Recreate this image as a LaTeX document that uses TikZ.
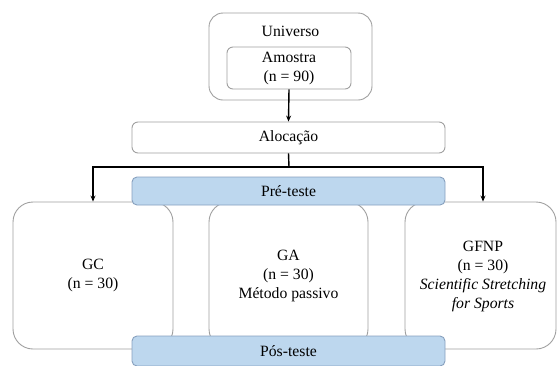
\documentclass[tikz,border=0pt]{standalone}
\usepackage{fontspec}
\setmainfont{Liberation Serif}
\usetikzlibrary{arrows.meta}
\definecolor{boxgray}{RGB}{160,160,160}
\definecolor{bluefill}{RGB}{189,215,238}
\definecolor{blueline}{RGB}{135,160,190}
\begin{document}
\begin{tikzpicture}[x=1pt,y=-1pt,
  txt/.style={font=\fontsize{15.7}{19}\selectfont, align=center, inner sep=0pt},
  graybox/.style={draw=boxgray, line width=0.9pt, fill=white, inner sep=0pt, rounded corners=#1},
  graybox/.default=6pt,
  bluebox/.style={draw=blueline, line width=0.9pt, fill=bluefill, inner sep=0pt, rounded corners=5pt,
    minimum width=313pt, font=\fontsize{15.7}{19}\selectfont},
  arr/.style={line width=1.4pt, -{Stealth[length=6pt,width=5pt]}},
  ln/.style={line width=1.4pt}
]
\useasboundingbox (0,0) rectangle (557,365);
% top boxes
\node[graybox=14pt, minimum width=163pt, minimum height=87pt] (univ) at (290.5,56.5) {};
\node[txt] (univt) at (290.5,31) {Universo};
\node[graybox=6pt, minimum width=124pt, minimum height=42pt, txt] (amo) at (289,68) {Amostra\\(n = 90)};
\node[graybox=6pt, minimum width=313pt, minimum height=31pt, txt] (aloc) at (288.5,137.5) {Alocação};
% group boxes
\node[graybox=20pt, minimum width=160pt, minimum height=147pt, txt] (gc) at (93,275.5) {GC\\(n = 30)};
\node[graybox=20pt, minimum width=159pt, minimum height=147pt, txt] (ga) at (288.5,275.5) {GA\\(n = 30)\\Método passivo};
\node[graybox=20pt, minimum width=151pt, minimum height=147pt] (gf) at (480.5,275.5) {};
\node[txt] (gft) at (483,276) {GFNP\\(n = 30)\\\textit{Scientific Stretching}\\\textit{for Sports}};
% test boxes
\node[bluebox, minimum height=28pt] (pre) at (288.5,191) {Pré-teste};
\node[bluebox, minimum height=30pt] (pos) at (288.5,351) {Pós-teste};
% connectors
\coordinate (split) at (289,167);
\coordinate (lft) at (93,167);
\coordinate (rgt) at (483,167);
\draw[arr] (amo.south) -- (aloc.north);
\draw[ln] (aloc.south) -- (split);
\draw[ln] (lft) -- (rgt);
\draw[arr] ([yshift=0.7pt]lft) -- (gc.north);
\draw[arr] ([yshift=0.7pt]rgt) -- (rgt |- gf.north);
\end{tikzpicture}
\end{document}
